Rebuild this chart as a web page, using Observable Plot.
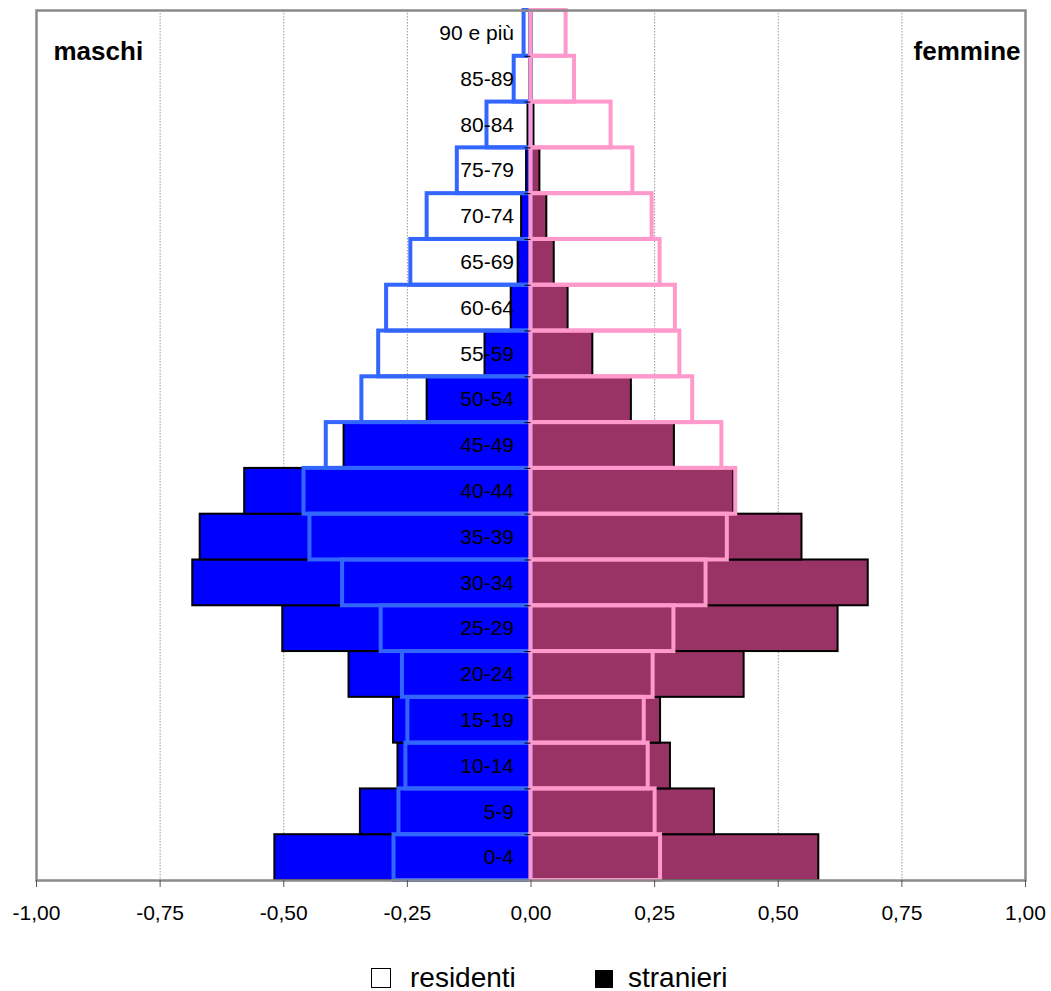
<!DOCTYPE html>
<html>
<head>
<meta charset="utf-8">
<script src="https://cdn.jsdelivr.net/npm/d3@7"></script>
<script src="https://cdn.jsdelivr.net/npm/@observablehq/plot@0.6"></script>
<style>
  html, body { margin: 0; padding: 0; background: #fff; }
  #wrap { position: relative; width: 1051px; height: 991px; font-family: "Liberation Sans", Arial, sans-serif; }
  #chart svg { display: block; }
  .lg { position: absolute; font-size: 28px; line-height: 28px; color: #000; }
  .sq { position: absolute; box-sizing: border-box; }
</style>
</head>
<body>
<div id="wrap">
  <div id="chart"></div>
  <div class="sq" style="left:371px; top:968px; width:20px; height:20px; border:1.5px solid #000; background:#fff;"></div>
  <div class="lg" style="left:410px; top:964px;">residenti</div>
  <div class="sq" style="left:595px; top:970px; width:18px; height:18px; background:#000;"></div>
  <div class="lg" style="left:628px; top:964px;">stranieri</div>
</div>
<script>
const ages = ["0-4","5-9","10-14","15-19","20-24","25-29","30-34","35-39","40-44","45-49","50-54","55-59","60-64","65-69","70-74","75-79","80-84","85-89","90 e più"];
const maschiResidenti = [-0.277,-0.267,-0.253,-0.249,-0.260,-0.303,-0.381,-0.447,-0.459,-0.414,-0.342,-0.308,-0.292,-0.243,-0.210,-0.149,-0.089,-0.034,-0.014];
const maschiStranieri = [-0.518,-0.345,-0.269,-0.278,-0.368,-0.502,-0.684,-0.669,-0.579,-0.378,-0.210,-0.093,-0.040,-0.026,-0.019,-0.009,-0.006,-0.002,-0.002];
const femmineResidenti = [0.262,0.251,0.237,0.229,0.247,0.289,0.354,0.397,0.414,0.386,0.327,0.301,0.292,0.261,0.245,0.206,0.162,0.088,0.071];
const femmineStranieri = [0.582,0.371,0.282,0.262,0.431,0.621,0.682,0.548,0.410,0.290,0.203,0.125,0.075,0.047,0.032,0.018,0.006,0.002,0.002];
const xTicks = [-1,-0.75,-0.5,-0.25,0,0.25,0.5,0.75,1];
const gridValues = [-0.75,-0.5,-0.25,0.25,0.5,0.75];
const sideLabels = ["maschi","femmine"];

const rows = (arr) => ages.map((age, i) => ({age, i, v: arr[i]}));
const bounds = d3.range(ages.length + 1);
const fmt = d3.formatLocale({decimal: ",", thousands: ".", grouping: [3], currency: ["", "€"], minus: "-"}).format(".2f");

const chart = Plot.plot({
  width: 1051,
  height: 940,
  marginLeft: 36,
  marginRight: 26,
  marginTop: 10,
  marginBottom: 60,
  style: {fontFamily: "'Liberation Sans', Arial, sans-serif", fontSize: "21px", color: "#000", background: "#fff"},
  x: {domain: [-1, 1], label: null},
  y: {domain: [0, ages.length], axis: null},
  marks: [
    Plot.ruleX(gridValues, {stroke: "#9a9a9a", strokeWidth: 1, strokeDasharray: "1.5,1.5"}),
    Plot.rect(rows(maschiStranieri), {x1: 0, x2: "v", y1: "i", y2: d => d.i + 1, fill: "#0000ff", stroke: "#000", strokeWidth: 2}),
    Plot.rect(rows(femmineStranieri), {x1: 0, x2: "v", y1: "i", y2: d => d.i + 1, fill: "#993366", stroke: "#000", strokeWidth: 2}),
    Plot.rect(rows(maschiResidenti), {x1: 0, x2: "v", y1: "i", y2: d => d.i + 1, fill: "none", stroke: "#3366ff", strokeWidth: 4}),
    Plot.rect(rows(femmineResidenti), {x1: 0, x2: "v", y1: "i", y2: d => d.i + 1, fill: "none", stroke: "#ff99cc", strokeWidth: 4}),
    Plot.ruleY(bounds, {x1: -0.012, x2: 0, stroke: "#000", strokeWidth: 1}),
    Plot.text(rows(maschiResidenti), {x: 0, y: d => d.i + 0.5, text: "age", textAnchor: "end", dx: -17, fill: "#000", fontSize: 21}),
    Plot.frame({stroke: "#8a8a8a", strokeWidth: 2.5}),
    Plot.axisX({ticks: xTicks, tickFormat: fmt, tickSize: 7, tickPadding: 18, stroke: "#555", fill: "#000", fontSize: 21, label: null}),
    Plot.text([sideLabels[0]], {frameAnchor: "top-left", text: d => d, textAnchor: "start", dx: 17, dy: 31, fontWeight: "bold", fontSize: 26, fill: "#000"}),
    Plot.text([sideLabels[1]], {frameAnchor: "top-right", text: d => d, textAnchor: "end", dx: -5, dy: 31, fontWeight: "bold", fontSize: 26, fill: "#000"})
  ]
});
document.getElementById("chart").appendChild(chart);
</script>
</body>
</html>
